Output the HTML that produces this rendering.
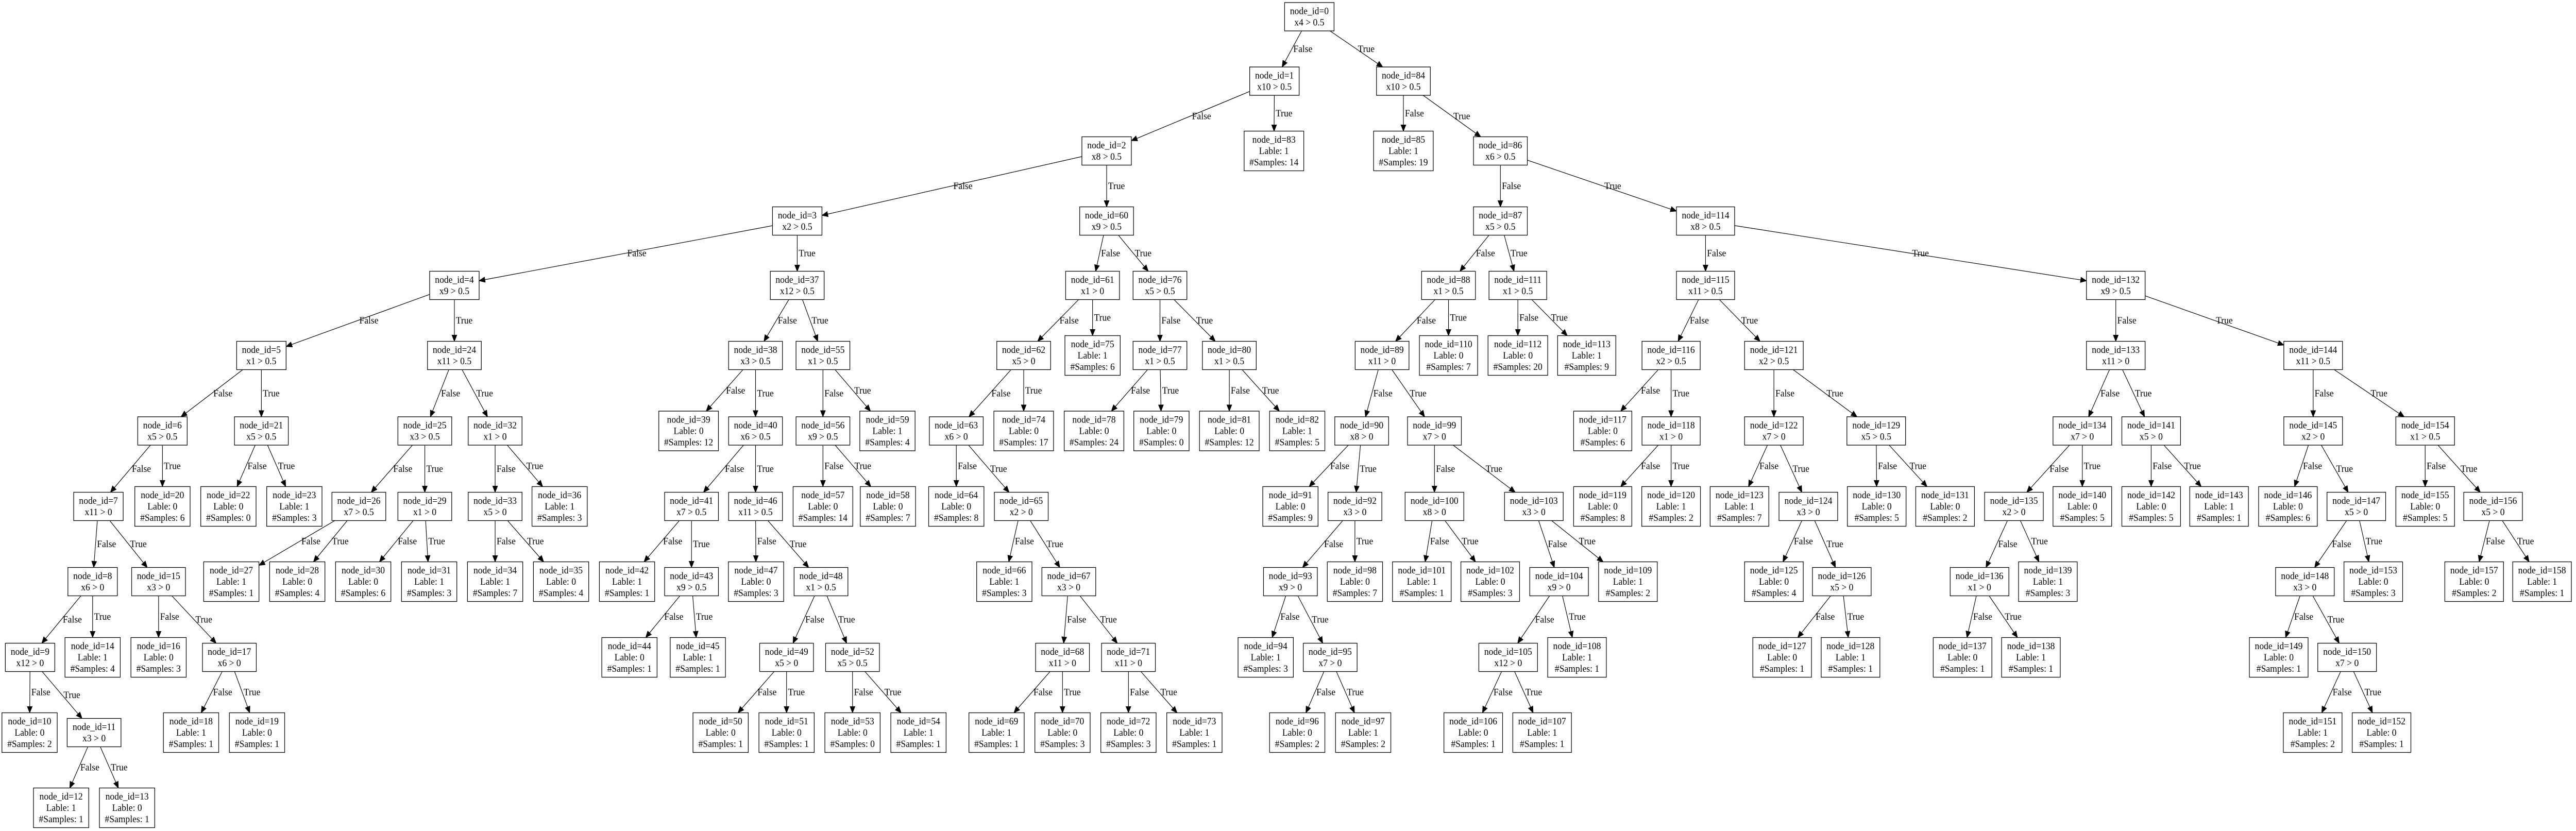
<!DOCTYPE html>
<html><head><meta charset="utf-8">
<style>
html,body{margin:0;padding:0;background:#fff;width:100%;height:100%;overflow:hidden;}
svg{display:block;width:100vw;height:100vh;}
svg text{font-family:"Liberation Serif",serif;font-size:18.67px;fill:#000;}
</style></head><body>
<svg id="s" xmlns="http://www.w3.org/2000/svg" viewBox="0 0 5312 1613" preserveAspectRatio="none"><rect width="5312" height="1613" fill="#fff"/></svg>
<script>
var Y=[32.5,157.5,293,429,554,690,836.5,983,1129,1276,1422,1568];
var N=`0,0,2700,c:x4 > 0.5
1,1,2628,c:x10 > 0.5
84,1,2894,c:x10 > 0.5
2,2,2282,c:x8 > 0.5
83,2,2627,l:1:14
85,2,2894,l:1:19
86,2,3094,c:x6 > 0.5
3,3,1644,c:x2 > 0.5
60,3,2282,c:x9 > 0.5
87,3,3094,c:x5 > 0.5
114,3,3517,c:x8 > 0.5
4,4,937,c:x9 > 0.5
37,4,1644,c:x12 > 0.5
61,4,2253,c:x1 > 0
76,4,2392,c:x5 > 0.5
88,4,2987,c:x1 > 0.5
111,4,3130,c:x1 > 0.5
115,4,3517,c:x11 > 0.5
132,4,4363,c:x9 > 0.5
5,5,539,c:x1 > 0.5
24,5,937,c:x11 > 0.5
38,5,1558,c:x3 > 0.5
55,5,1697,c:x1 > 0.5
62,5,2111,c:x5 > 0
75,5,2253,l:1:6
77,5,2392,c:x1 > 0.5
80,5,2535,c:x1 > 0.5
89,5,2850,c:x11 > 0
110,5,2987,l:0:7
112,5,3130,l:0:20
113,5,3272,l:1:9
116,5,3446,c:x2 > 0.5
121,5,3658,c:x2 > 0.5
133,5,4363,c:x11 > 0
144,5,4770,c:x11 > 0.5
6,6,335,c:x5 > 0.5
21,6,539,c:x5 > 0.5
25,6,876,c:x3 > 0.5
32,6,1021,c:x1 > 0
39,6,1420,l:0:12
40,6,1558,c:x6 > 0.5
56,6,1697,c:x9 > 0.5
59,6,1830,l:1:4
63,6,1972,c:x6 > 0
74,6,2111,l:0:17
78,6,2256,l:0:24
79,6,2395,l:0:0
81,6,2535,l:0:12
82,6,2675,l:1:5
90,6,2808,c:x8 > 0
99,6,2958,c:x7 > 0
117,6,3305,l:0:6
118,6,3446,c:x1 > 0
122,6,3658,c:x7 > 0
129,6,3869,c:x5 > 0.5
134,6,4294,c:x7 > 0
141,6,4436,c:x5 > 0
145,6,4770,c:x2 > 0
154,6,5001,c:x1 > 0.5
7,7,203,c:x11 > 0
20,7,335,l:0:6
22,7,471,l:0:0
23,7,607,l:1:3
26,7,740,c:x7 > 0.5
29,7,876,c:x1 > 0
33,7,1021,c:x5 > 0
36,7,1154,l:1:3
41,7,1426,c:x7 > 0.5
46,7,1558,c:x11 > 0.5
57,7,1697,l:0:14
58,7,1831,l:0:7
64,7,1972,l:0:8
65,7,2106,c:x2 > 0
91,7,2661,l:0:9
92,7,2794,c:x3 > 0
100,7,2958,c:x8 > 0
103,7,3163,c:x3 > 0
119,7,3305,l:0:8
120,7,3446,l:1:2
123,7,3587,l:1:7
124,7,3729,c:x3 > 0
130,7,3870,l:0:5
131,7,4011,l:0:2
135,7,4153,c:x2 > 0
140,7,4294,l:0:5
142,7,4436,l:0:5
143,7,4576,l:1:1
146,7,4718,l:0:6
147,7,4859,c:x5 > 0
155,7,5001,l:0:5
156,7,5141,c:x5 > 0
8,8,191,c:x6 > 0
15,8,327,c:x3 > 0
27,8,477,l:1:1
28,8,613,l:0:4
30,8,749,l:0:6
31,8,885,l:1:3
34,8,1021,l:1:7
35,8,1157,l:0:4
42,8,1293,l:1:1
43,8,1426,c:x9 > 0.5
47,8,1559,l:0:3
48,8,1693,c:x1 > 0.5
66,8,2071,l:1:3
67,8,2204,c:x3 > 0
93,8,2661,c:x9 > 0
98,8,2794,l:0:7
101,8,2932,l:1:1
102,8,3073,l:0:3
104,8,3215,c:x9 > 0
109,8,3357,l:1:2
125,8,3658,l:0:4
126,8,3798,c:x5 > 0
136,8,4082,c:x1 > 0
139,8,4223,l:1:3
148,8,4753,c:x3 > 0
153,8,4894,l:0:3
157,8,5102,l:0:2
158,8,5242,l:1:1
9,9,62,c:x12 > 0
14,9,191,l:1:4
16,9,327,l:0:3
17,9,473,c:x6 > 0
44,9,1298,l:0:1
45,9,1439,l:1:1
49,9,1622,c:x5 > 0
52,9,1758,c:x5 > 0.5
68,9,2191,c:x11 > 0
71,9,2327,c:x11 > 0
94,9,2610,l:1:3
95,9,2743,c:x7 > 0
105,9,3110,c:x12 > 0
108,9,3252,l:1:1
127,9,3675,l:0:1
128,9,3816,l:1:1
137,9,4047,l:0:1
138,9,4188,l:1:1
149,9,4699,l:0:1
150,9,4840,c:x7 > 0
10,10,61,l:0:2
11,10,194,c:x3 > 0
18,10,394,l:1:1
19,10,530,l:0:1
50,10,1486,l:0:1
51,10,1622,l:0:1
53,10,1758,l:0:0
54,10,1894,l:1:1
69,10,2055,l:1:1
70,10,2191,l:0:3
72,10,2327,l:0:3
73,10,2463,l:1:1
96,10,2675,l:0:2
97,10,2811,l:1:2
106,10,3038,l:0:1
107,10,3180,l:1:1
151,10,4769,l:1:2
152,10,4911,l:0:1
12,11,126,l:1:1
13,11,262,l:0:1`;
var E="0,1,84;1,2,83;84,85,86;2,3,60;86,87,114;3,4,37;60,61,76;87,88,111;114,115,132;4,5,24;37,38,55;61,62,75;76,77,80;88,89,110;111,112,113;115,116,121;132,133,144;5,6,21;24,25,32;38,39,40;55,56,59;62,63,74;77,78,79;80,81,82;89,90,99;116,117,118;121,122,129;133,134,141;144,145,154;6,7,20;21,22,23;25,26,29;32,33,36;40,41,46;56,57,58;63,64,65;90,91,92;99,100,103;118,119,120;122,123,124;129,130,131;134,135,140;141,142,143;145,146,147;154,155,156;7,8,15;26,27,28;29,30,31;33,34,35;41,42,43;46,47,48;65,66,67;92,93,98;100,101,102;103,104,109;124,125,126;135,136,139;147,148,153;156,157,158;8,9,14;15,16,17;43,44,45;48,49,52;67,68,71;93,94,95;104,105,108;126,127,128;136,137,138;148,149,150;9,10,11;17,18,19;49,50,51;52,53,54;68,69,70;71,72,73;95,96,97;105,106,107;150,151,152;11,12,13";
var S=document.getElementById('s'),NS='http://www.w3.org/2000/svg',M={};
function el(t,a,p){var e=document.createElementNS(NS,t);for(var k in a)e.setAttribute(k,a[k]);(p||S).appendChild(e);return e;}
var gE=el('g',{}),gN=el('g',{});
N.split('\n').forEach(function(r){var p=r.split(','),id=p[0],rk=+p[1],x=+p[2],t=p.slice(3).join(',');
var lines,h;
if(t[0]=='c'){lines=['node_id='+id,t.slice(2)];h=55;}
else{var q=t.split(':');lines=['node_id='+id,'Lable: '+q[1],'#Samples: '+q[2]];h=77;}
var y=Y[rk],g=el('g',{},gN),rc=el('rect',{fill:'#fff',stroke:'#000','stroke-width':'1.3'},g),mw=0;
lines.forEach(function(s,i){var tx=el('text',{x:x,y:y+(i-(lines.length-1)/2)*22,'text-anchor':'middle','dominant-baseline':'central'},g);tx.textContent=s;
var w=tx.getComputedTextLength();if(w>mw)mw=w;});
var w=Math.round(mw+22);
rc.setAttribute('x',x-w/2);rc.setAttribute('y',y-h/2);rc.setAttribute('width',w);rc.setAttribute('height',h);
M[id]={x:x,y:y,hw:w/2,hh:h/2};});
function edge(a,b,lab){var A=M[a],B=M[b],dx=B.x-A.x,dy=B.y-A.y;
var t1=Math.min(dx?A.hw/Math.abs(dx):1e9,A.hh/dy);
var t2=Math.min(dx?B.hw/Math.abs(dx):1e9,B.hh/dy);
var sx=A.x+dx*t1,sy=A.y+dy*t1,ex=B.x-dx*t2,ey=B.y-dy*t2;
var L=Math.hypot(ex-sx,ey-sy),ux=(ex-sx)/L,uy=(ey-sy)/L,al=12,aw=5;
var bx=ex-ux*al,by=ey-uy*al;
el('line',{x1:sx,y1:sy,x2:bx,y2:by,stroke:'#000','stroke-width':'1.2'},gE);
el('polygon',{points:ex+','+ey+' '+(bx-uy*aw)+','+(by+ux*aw)+' '+(bx+uy*aw)+','+(by-ux*aw),fill:'#000',stroke:'#000','stroke-width':'1'},gE);
var ly=(A.y+A.hh+B.y-B.hh)/2,lx=A.x+dx*(ly-A.y)/dy;
var tx=el('text',{x:lx+3,y:ly,'dominant-baseline':'central'},gE);tx.textContent=lab;}
E.split(';').forEach(function(r){var p=r.split(',');edge(p[0],p[1],'False');edge(p[0],p[2],'True');});
</script>
</body></html>
